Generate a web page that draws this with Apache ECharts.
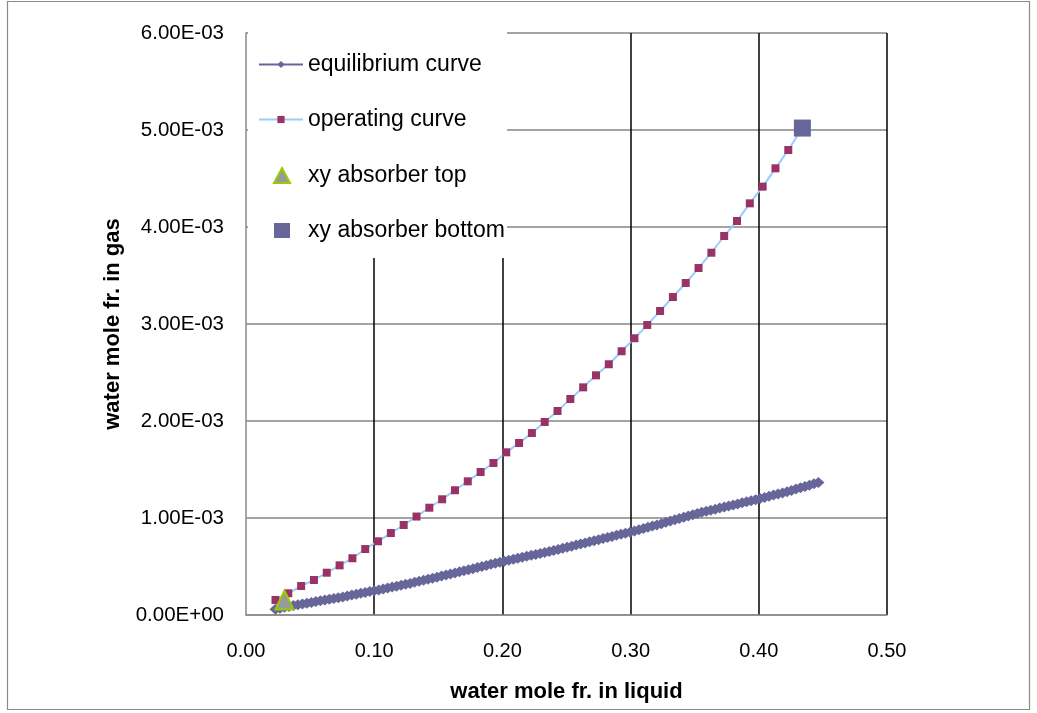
<!DOCTYPE html>
<html>
<head>
<meta charset="utf-8">
<title>Water absorber: equilibrium and operating curves</title>
<script src="https://cdn.jsdelivr.net/npm/echarts@6/dist/echarts.min.js"></script>
<style>
  html, body { margin: 0; padding: 0; background: #fff; }
  #chart { width: 1037px; height: 713px; }
</style>
</head>
<body>
<div id="chart"></div>
<script>
// Equilibrium curve: liquid mole fraction and gas mole fraction (gas values in units of 1e-3)
const eqX = [
  0.0230, 0.0265, 0.0300, 0.0335, 0.0370, 0.0405, 0.0440, 0.0475, 0.0510, 0.0545,
  0.0580, 0.0615, 0.0650, 0.0685, 0.0720, 0.0755, 0.0790, 0.0825, 0.0860, 0.0895,
  0.0930, 0.0965, 0.1000, 0.1035, 0.1070, 0.1105, 0.1140, 0.1175, 0.1210, 0.1245,
  0.1280, 0.1315, 0.1350, 0.1385, 0.1420, 0.1455, 0.1490, 0.1525, 0.1560, 0.1595,
  0.1630, 0.1665, 0.1700, 0.1735, 0.1770, 0.1805, 0.1840, 0.1875, 0.1910, 0.1945,
  0.1980, 0.2015, 0.2050, 0.2085, 0.2120, 0.2155, 0.2190, 0.2225, 0.2260, 0.2295,
  0.2330, 0.2365, 0.2400, 0.2435, 0.2470, 0.2505, 0.2540, 0.2575, 0.2610, 0.2645,
  0.2680, 0.2715, 0.2750, 0.2785, 0.2820, 0.2855, 0.2890, 0.2925, 0.2960, 0.2995,
  0.3030, 0.3065, 0.3100, 0.3135, 0.3170, 0.3205, 0.3240, 0.3275, 0.3310, 0.3345,
  0.3380, 0.3415, 0.3450, 0.3485, 0.3520, 0.3555, 0.3590, 0.3625, 0.3660, 0.3695,
  0.3730, 0.3765, 0.3800, 0.3835, 0.3870, 0.3905, 0.3940, 0.3975, 0.4010, 0.4045,
  0.4080, 0.4115, 0.4150, 0.4185, 0.4220, 0.4255, 0.4290, 0.4325, 0.4360, 0.4395,
  0.4430, 0.4465
];
const eqYmilli = [
  0.060, 0.069, 0.079, 0.088, 0.097, 0.106, 0.114, 0.122, 0.130, 0.138,
  0.146, 0.154, 0.162, 0.170, 0.178, 0.186, 0.195, 0.205, 0.214, 0.223,
  0.232, 0.241, 0.250, 0.259, 0.269, 0.278, 0.288, 0.297, 0.307, 0.316,
  0.326, 0.337, 0.347, 0.358, 0.369, 0.379, 0.390, 0.401, 0.412, 0.423,
  0.434, 0.445, 0.456, 0.467, 0.478, 0.489, 0.500, 0.511, 0.522, 0.533,
  0.544, 0.554, 0.564, 0.574, 0.584, 0.595, 0.605, 0.615, 0.625, 0.635,
  0.645, 0.655, 0.665, 0.676, 0.687, 0.699, 0.710, 0.721, 0.732, 0.743,
  0.754, 0.766, 0.777, 0.788, 0.799, 0.810, 0.821, 0.832, 0.843, 0.853,
  0.866, 0.879, 0.891, 0.904, 0.917, 0.929, 0.942, 0.955, 0.968, 0.981,
  0.994, 1.008, 1.021, 1.034, 1.047, 1.060, 1.070, 1.081, 1.091, 1.102,
  1.113, 1.123, 1.134, 1.145, 1.156, 1.167, 1.177, 1.188, 1.200, 1.212,
  1.224, 1.236, 1.247, 1.259, 1.271, 1.284, 1.298, 1.311, 1.325, 1.338,
  1.352, 1.365
];

// Operating curve (gas values in units of 1e-3)
const opX = [
  0.023, 0.033, 0.043, 0.053, 0.063, 0.073, 0.083, 0.093, 0.103, 0.113,
  0.123, 0.133, 0.143, 0.153, 0.163, 0.173, 0.183, 0.193, 0.203, 0.213,
  0.223, 0.233, 0.243, 0.253, 0.263, 0.273, 0.283, 0.293, 0.303, 0.313,
  0.323, 0.333, 0.343, 0.353, 0.363, 0.373, 0.383, 0.393, 0.403, 0.413,
  0.423
];
const opYmilli = [
  0.155, 0.224, 0.299, 0.361, 0.436, 0.512, 0.585, 0.680, 0.760, 0.845,
  0.928, 1.015, 1.106, 1.193, 1.286, 1.378, 1.474, 1.567, 1.677, 1.773,
  1.876, 1.990, 2.103, 2.227, 2.347, 2.471, 2.585, 2.719, 2.853, 2.990,
  3.134, 3.278, 3.423, 3.577, 3.735, 3.907, 4.062, 4.244, 4.416, 4.605,
  4.794
];

// Absorber end points (gas values in units of 1e-3)
const topX = [0.030];
const topYmilli = [0.155];
const bottomX = [0.434];
const bottomYmilli = [5.02];

// Axis ranges and tick spacing
const xTicks = { min: 0, max: 0.5, interval: 0.1 };
const yTicks = { min: 0, max: 0.006, interval: 0.001 };

const seriesNames = ['equilibrium curve', 'operating curve', 'xy absorber top', 'xy absorber bottom'];

const pairs = (xs, ysMilli) => xs.map((x, i) => [x, ysMilli[i] * 1e-3]);

// Scientific notation with a signed two-digit exponent, e.g. 6.00E-03
function sci(v) {
  if (v === 0) return '0.00E+00';
  const e = Math.floor(Math.log10(Math.abs(v)) + 1e-9);
  const m = v / Math.pow(10, e);
  const a = Math.abs(e);
  return m.toFixed(2) + 'E' + (e < 0 ? '-' : '+') + (a < 10 ? '0' : '') + a;
}

const FONT = 'Liberation Sans, Arial, sans-serif';
const legendText = { fontFamily: FONT, fontSize: 23, color: '#000' };

const TOP_STYLE = { color: '#999999', borderColor: '#99cc00', borderWidth: 2, opacity: 1 };
const BOTTOM_STYLE = { color: '#666699', opacity: 1 };

// The operating line runs on to the absorber-bottom point
const opData = pairs(opX, opYmilli);
opData.push({ value: [bottomX[0], bottomYmilli[0] * 1e-3], symbol: 'none' });

const chart = echarts.init(document.getElementById('chart'), null, { renderer: 'canvas' });
chart.setOption({
  animation: false,
  backgroundColor: '#fff',
  grid: { left: 246, right: 150, top: 33, bottom: 98, containLabel: false },
  graphic: [
    {
      type: 'rect', z: 0, silent: true,
      shape: { x: 7.5, y: 1.5, width: 1022, height: 708 },
      style: { fill: 'none', stroke: '#8a8a8a', lineWidth: 1.2 }
    },
    {
      // white panel behind the legend
      type: 'rect', z: 3, silent: true,
      shape: { x: 248, y: 31, width: 259, height: 227 },
      style: { fill: '#fff', stroke: 'none' }
    }
  ],
  legend: [
    {
      data: seriesNames.slice(0, 2),
      orient: 'vertical', left: 258, top: 53, padding: 0,
      itemWidth: 44, itemHeight: 9, itemGap: 32,
      selectedMode: false, textStyle: legendText, z: 5
    },
    {
      data: [
        { name: seriesNames[2], icon: 'triangle', itemStyle: TOP_STYLE },
        { name: seriesNames[3], icon: 'rect', itemStyle: BOTTOM_STYLE }
      ],
      orient: 'vertical', left: 273, top: 164, padding: 0,
      itemWidth: 16, itemHeight: 15, itemGap: 32,
      symbolKeepAspect: true,
      selectedMode: false,
      textStyle: Object.assign({}, legendText, { padding: [0, 0, 0, 13] }),
      z: 5
    }
  ],
  xAxis: {
    type: 'value',
    min: xTicks.min, max: xTicks.max, interval: xTicks.interval,
    name: 'water mole fr. in liquid',
    nameLocation: 'middle', nameGap: 66,
    nameTextStyle: { fontFamily: FONT, fontSize: 22, fontWeight: 'bold', color: '#000' },
    axisLine: { show: true, lineStyle: { color: '#8a8a8a', width: 1.5 } },
    axisTick: { show: false },
    axisLabel: { margin: 26, fontFamily: FONT, fontSize: 20, color: '#000',
                 formatter: v => v.toFixed(2) },
    splitLine: { show: true, showMinLine: false, lineStyle: { color: '#000', width: 1.5 } }
  },
  yAxis: {
    type: 'value',
    min: yTicks.min, max: yTicks.max, interval: yTicks.interval,
    name: 'water mole fr. in gas',
    nameLocation: 'middle', nameGap: 122, nameRotate: 90,
    nameTextStyle: { fontFamily: FONT, fontSize: 22, fontWeight: 'bold', color: '#000' },
    axisLine: { show: true, lineStyle: { color: '#8a8a8a', width: 1.5 } },
    axisTick: { show: false },
    axisLabel: { margin: 22, fontFamily: FONT, fontSize: 20.5, color: '#000', formatter: sci },
    splitLine: { show: true, lineStyle: { color: '#868686', width: 1.5 } }
  },
  series: [
    {
      name: seriesNames[0], type: 'line',
      data: pairs(eqX, eqYmilli),
      symbol: 'diamond', symbolSize: [12, 11], showSymbol: true,
      lineStyle: { color: '#666699', width: 2 },
      itemStyle: { color: '#666699' }
    },
    {
      name: seriesNames[1], type: 'line',
      data: opData,
      smooth: 0.2,
      symbol: 'rect', symbolSize: 8, showSymbol: true,
      lineStyle: { color: '#99ccff', width: 2 },
      itemStyle: { color: '#993366' }
    },
    {
      name: seriesNames[2], type: 'scatter', z: 5,
      data: pairs(topX, topYmilli),
      symbol: 'triangle', symbolSize: [18, 19],
      itemStyle: TOP_STYLE
    },
    {
      name: seriesNames[3], type: 'scatter', z: 5,
      data: pairs(bottomX, bottomYmilli),
      symbol: 'rect', symbolSize: 17,
      itemStyle: BOTTOM_STYLE
    }
  ]
});
</script>
</body>
</html>
